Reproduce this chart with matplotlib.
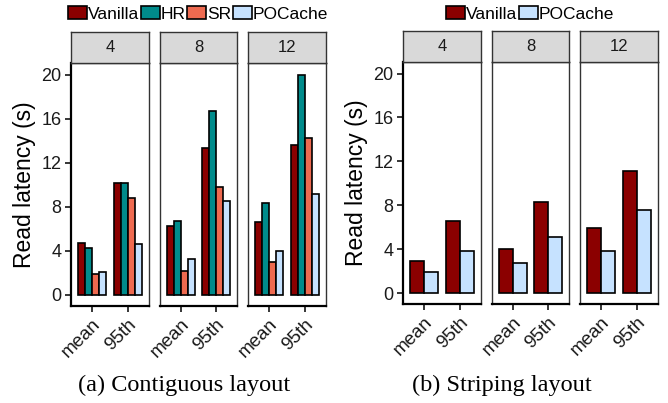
import matplotlib
matplotlib.use('Agg')
import matplotlib.pyplot as plt
from matplotlib.patches import Patch
from matplotlib.transforms import ScaledTranslation

plt.rcParams['font.family'] = 'Liberation Sans'

groups = ['4', '8', '12']
stats = ['mean', '95th']

# (a) contiguous layout: [mean, 95th] per group 4, 8, 12
contig_vanilla = [[4.75, 10.2], [6.3, 13.35], [6.65, 13.65]]
contig_hr = [[4.3, 10.15], [6.7, 16.7], [8.35, 20.0]]
contig_sr = [[1.9, 8.8], [2.2, 9.8], [2.95, 14.2]]
contig_pocache = [[2.05, 4.6], [3.25, 8.55], [3.95, 9.2]]

# (b) striping layout
stripe_vanilla = [[2.9, 6.55], [4.0, 8.25], [5.9, 11.1]]
stripe_pocache = [[1.95, 3.8], [2.75, 5.15], [3.85, 7.6]]

colors = {'Vanilla': '#8B0000', 'HR': '#008B8B', 'SR': '#EE6A50', 'POCache': '#C6E2FF'}

W, H = 668, 403
fig = plt.figure(figsize=(W / 100, H / 100), dpi=100)


def box(x0, y0, x1, y1):
    return [x0 / W, 1 - y1 / H, (x1 - x0) / W, (y1 - y0) / H]


def facets(xs, strip_top, strip_bot, bottom, series, names):
    n = len(series)
    bw = 0.8 / n
    shift = ScaledTranslation(0.1, 0.03, fig.dpi_scale_trans)
    for j, (x0, x1) in enumerate(xs):
        ax = fig.add_axes(box(x0, strip_bot, x1, bottom))
        for k, (vals, name) in enumerate(zip(series, names)):
            off = -0.4 + bw * (k + 0.5)
            ax.bar([1 + off, 2 + off], vals[j], bw, color=colors[name],
                   edgecolor='black', linewidth=1.2, zorder=3)
        ax.set_xlim(0.4, 2.6)
        ax.set_ylim(-1.0, 21.05)
        ax.set_xticks([1, 2])
        ax.set_xticklabels(stats, rotation=45, ha='right', va='top',
                           rotation_mode='anchor', fontsize=13.5, color='#1a1a1a')
        for lab in ax.get_xticklabels():
            lab.set_transform(lab.get_transform() + shift)
        ax.tick_params(axis='x', length=4, width=1.1, pad=3)
        for s in ax.spines.values():
            s.set_color('#333333')
            s.set_linewidth(1.0)
        ax.spines['bottom'].set_color('black')
        ax.spines['bottom'].set_linewidth(1.6)
        if j == 0:
            ax.set_yticks([0, 4, 8, 12, 16, 20])
            ax.tick_params(axis='y', length=4, width=1.1, labelsize=13,
                           labelcolor='#1a1a1a', pad=3)
            ax.spines['left'].set_color('black')
            ax.spines['left'].set_linewidth(1.6)
            ax.set_ylabel('Read latency (s)', fontsize=16.5, labelpad=4)
        else:
            ax.set_yticks([])
        st = fig.add_axes(box(x0, strip_top, x1, strip_bot))
        st.set_facecolor('#D9D9D9')
        st.set_xticks([])
        st.set_yticks([])
        for s in st.spines.values():
            s.set_color('#333333')
            s.set_linewidth(1.0)
        st.text(0.5, 0.5, groups[j], ha='center', va='center',
                fontsize=12, color='#1a1a1a', transform=st.transAxes)


facets([(71, 149), (160, 237), (248, 326)], 32, 63, 306,
       [contig_vanilla, contig_hr, contig_sr, contig_pocache],
       ['Vanilla', 'HR', 'SR', 'POCache'])
facets([(403, 481), (492, 569), (580, 658)], 31, 62, 304,
       [stripe_vanilla, stripe_pocache], ['Vanilla', 'POCache'])


def legend(names, cx):
    handles = [Patch(facecolor=colors[n], edgecolor='black', linewidth=1.2) for n in names]
    fig.legend(handles, names, loc='center', bbox_to_anchor=(cx / W, 1 - 14 / H),
               ncol=len(names), frameon=False, fontsize=12.5, handlelength=1.1,
               handleheight=0.75, handletextpad=0.05, columnspacing=0.1,
               borderpad=0, borderaxespad=0)


legend(['Vanilla', 'HR', 'SR', 'POCache'], 198)
legend(['Vanilla', 'POCache'], 530)

fig.text(184 / W, 1 - 385 / H, '(a) Contiguous layout', ha='center', va='center',
         fontsize=17.5, family='Liberation Serif')
fig.text(502 / W, 1 - 385 / H, '(b) Striping layout', ha='center', va='center',
         fontsize=17.5, family='Liberation Serif')

fig.savefig('out.png', dpi=100)
